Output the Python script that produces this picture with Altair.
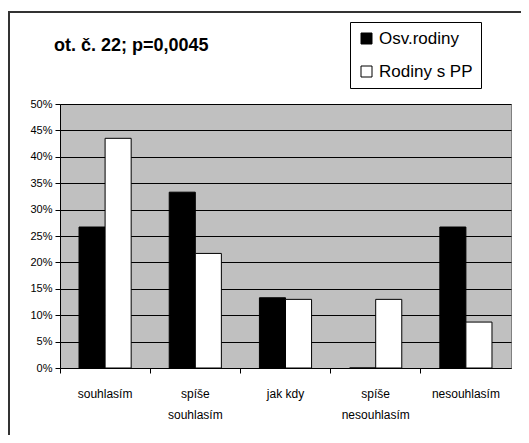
import altair as alt
import pandas as pd

categories = ["souhlasím", "spíše souhlasím", "jak kdy", "spíše nesouhlasím", "nesouhlasím"]
series_names = ["Osv.rodiny", "Rodiny s PP"]
osv_rodiny = [26.7, 33.3, 13.3, 0.0, 26.7]
rodiny_pp = [43.5, 21.7, 13.0, 13.0, 8.7]
y_ticks = [0, 5, 10, 15, 20, 25, 30, 35, 40, 45, 50]
title_text = "ot. č. 22; p=0,0045"

rows = []
for c, a, b in zip(categories, osv_rodiny, rodiny_pp):
    rows.append({"kat": c, "skupina": series_names[0], "hodnota": a / 100})
    rows.append({"kat": c, "skupina": series_names[1], "hodnota": b / 100})
df = pd.DataFrame(rows)

FONT = "Liberation Sans"
W = 451

bars = alt.Chart(df).mark_bar(stroke="black", strokeWidth=1).encode(
    x=alt.X("kat:N", sort=categories, title=None,
            scale=alt.Scale(paddingInner=0, paddingOuter=0),
            axis=alt.Axis(labelAngle=0, domainColor="black", bandPosition=0,
                          tickColor="black", tickSize=5, labelFontSize=12,
                          labelFont=FONT, labelColor="black", labelPadding=15,
                          labelLineHeight=21,
                          labelExpr="indexof(datum.label, 'spíše') == 0 ? split(datum.label, ' ') : datum.label",
                          grid=False)),
    xOffset=alt.XOffset("skupina:N", sort=series_names,
                        scale=alt.Scale(paddingInner=0, paddingOuter=0.73)),
    y=alt.Y("hodnota:Q", title=None,
            scale=alt.Scale(domain=[0, 0.5], nice=False),
            axis=alt.Axis(values=[v / 100 for v in y_ticks], format=".0%",
                          grid=True, gridColor="black", gridWidth=1, gridOpacity=1,
                          domainColor="black", tickColor="black", tickSize=5,
                          labelFontSize=11, labelFont=FONT, labelColor="black",
                          labelPadding=3)),
    fill=alt.Fill("skupina:N", sort=series_names,
                  scale=alt.Scale(domain=series_names, range=["black", "white"]),
                  legend=alt.Legend(title=None, orient="none", legendX=290, legendY=-82,
                                    strokeColor="black", padding=8, fillColor="white",
                                    symbolType="square", symbolSize=121,
                                    symbolStrokeColor="black", symbolStrokeWidth=1,
                                    labelFontSize=17, labelFont=FONT, labelColor="black",
                                    rowPadding=15)),
)

frame = alt.Chart(pd.DataFrame({"f": [0]})).mark_rect(
    fillOpacity=0, stroke="#333333", strokeWidth=2
).encode(
    x=alt.value(-51), x2=alt.value(900), y=alt.value(-92), y2=alt.value(900)
)

chart = alt.layer(bars, frame).properties(
    width=W, height=264,
    title=alt.TitleParams(title_text, anchor="start", frame="group", fontSize=18,
                          fontWeight="bold", font=FONT, color="black", dx=-6,
                          offset=0, dy=58, baseline="alphabetic"),
    padding={"left": 52, "top": 96, "right": 10, "bottom": 67},
    autosize=alt.AutoSizeParams(type="none"),
    background="white",
).configure_view(fill="#C0C0C0", stroke="#808080", strokeWidth=1)

chart.save("out.html", embed_options={"renderer": "svg", "actions": False})
